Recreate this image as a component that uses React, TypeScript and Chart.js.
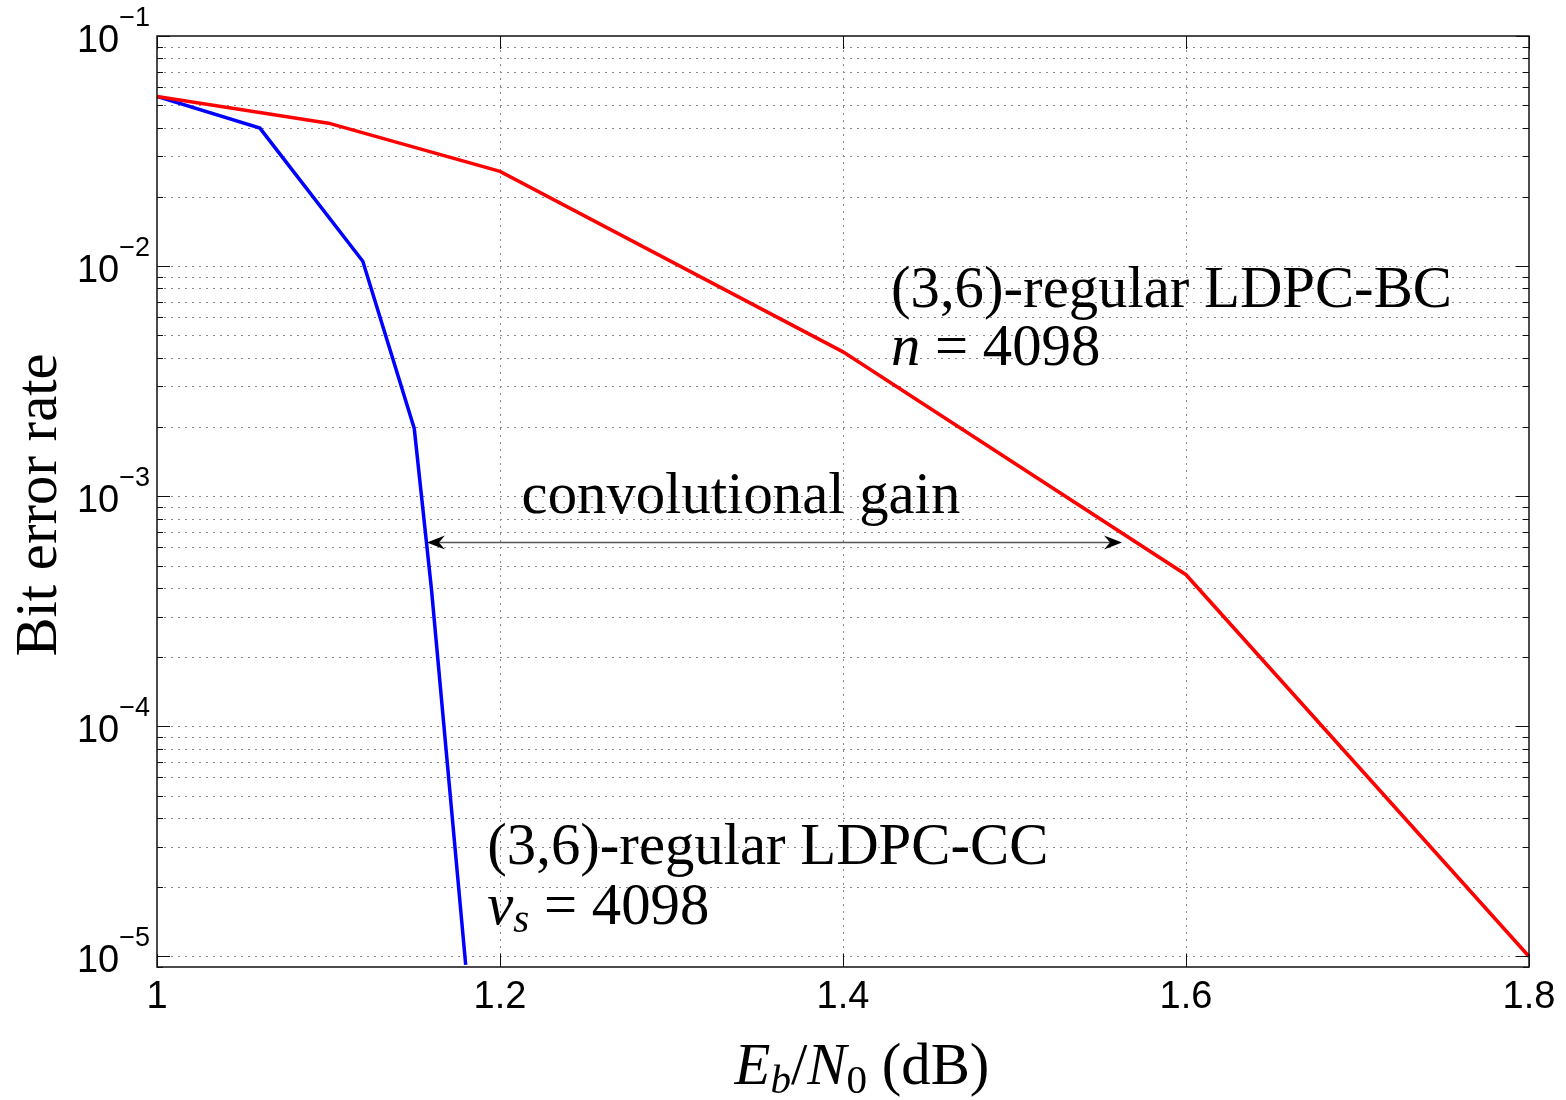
import React, { useEffect, useRef } from "react";
import { Chart, registerables } from "chart.js";

Chart.register(...registerables);

// ---- data ----
const ebn0CC = [1, 1.06, 1.12, 1.15, 1.16, 1.18];
const berCC = [0.0546, 0.0398, 0.0105, 0.00197, 0.000397, 0.0000092];
const ebn0BC = [1, 1.1, 1.2, 1.4, 1.6, 1.8];
const berBC = [0.0546, 0.0418, 0.0258, 0.00424, 0.000456, 0.00001];

const xTicks = [1, 1.2, 1.4, 1.6, 1.8];
const xTickLabels = ["1", "1.2", "1.4", "1.6", "1.8"];
const yDecades = [-5, -4, -3, -2, -1];
const yTickSup = ["\u22125", "\u22124", "\u22123", "\u22122", "\u22121"];

const X_MIN = 1;
const X_MAX = 1.8;
const Y_MIN = 9e-6;
const Y_MAX = 0.1;

// annotation anchors (data coordinates)
const bcLabel = { x: 1.428, y1: 6.62e-3, y2: 3.72e-3 };
const ccLabel = { x: 1.1926, y1: 2.52e-5, y2: 1.39e-5 };
const gainLabel = { x: 1.3405, y: 8.47e-4 };
const gainArrow = { x1: 1.1574, x2: 1.5627, y: 6.34e-4 };

type Piece = { t: string; it?: boolean; sub?: boolean };

const SERIF = '"Liberation Serif", "Times New Roman", serif';
const SANS = '"Liberation Sans", Arial, sans-serif';

function richWidth(ctx: CanvasRenderingContext2D, pieces: Piece[], S: number) {
  let w = 0;
  for (const p of pieces) {
    const size = p.sub ? S * 0.7 : S;
    ctx.font = `${p.it ? "italic " : ""}${size}px ${SERIF}`;
    w += ctx.measureText(p.t).width;
  }
  return w;
}

function drawRich(
  ctx: CanvasRenderingContext2D,
  pieces: Piece[],
  x: number,
  y: number,
  S: number
) {
  let cx = x;
  ctx.textAlign = "left";
  ctx.textBaseline = "alphabetic";
  for (const p of pieces) {
    const size = p.sub ? S * 0.7 : S;
    ctx.font = `${p.it ? "italic " : ""}${size}px ${SERIF}`;
    ctx.fillText(p.t, cx, p.sub ? y + S * 0.15 : y);
    cx += ctx.measureText(p.t).width;
  }
}

const matlabAxes = {
  id: "matlabAxes",
  beforeDatasetsDraw(chart: any) {
    const { ctx, chartArea: a, scales } = chart;
    const xs = scales.x;
    const ys = scales.y;
    ctx.save();
    ctx.strokeStyle = "#8a8a8a";
    ctx.lineWidth = 1;
    ctx.setLineDash([2, 5]);
    for (let e = -6; e <= -1; e++) {
      for (let k = 1; k <= 9; k++) {
        const v = k * Math.pow(10, e);
        if (v <= Y_MIN * 1.001 || v >= Y_MAX * 0.999) continue;
        const py = Math.round(ys.getPixelForValue(v)) + 0.5;
        ctx.beginPath();
        ctx.moveTo(a.left, py);
        ctx.lineTo(a.right, py);
        ctx.stroke();
      }
    }
    for (const t of xTicks) {
      if (t === X_MIN || t === X_MAX) continue;
      const px = Math.round(xs.getPixelForValue(t)) + 0.5;
      ctx.beginPath();
      ctx.moveTo(px, a.top);
      ctx.lineTo(px, a.bottom);
      ctx.stroke();
    }
    ctx.restore();
  },
  afterDatasetsDraw(chart: any) {
    const { ctx, chartArea: a, scales } = chart;
    const xs = scales.x;
    const ys = scales.y;
    ctx.save();
    ctx.setLineDash([]);
    ctx.strokeStyle = "#111";
    ctx.lineWidth = 1;

    const line = (x1: number, y1: number, x2: number, y2: number) => {
      ctx.beginPath();
      ctx.moveTo(x1, y1);
      ctx.lineTo(x2, y2);
      ctx.stroke();
    };
    for (let e = -6; e <= -1; e++) {
      for (let k = 1; k <= 9; k++) {
        const v = k * Math.pow(10, e);
        if (v < Y_MIN * 0.999 || v > Y_MAX * 1.001) continue;
        const py = Math.round(ys.getPixelForValue(v)) + 0.5;
        const len = k === 1 ? 13 : 6;
        line(a.left, py, a.left + len, py);
        line(a.right, py, a.right - len, py);
      }
    }
    for (const t of xTicks) {
      const px = Math.round(xs.getPixelForValue(t)) + 0.5;
      line(px, a.bottom, px, a.bottom - 13);
      line(px, a.top, px, a.top + 13);
    }

    ctx.lineWidth = 1.5;
    ctx.strokeStyle = "#111";
    ctx.strokeRect(a.left, a.top, a.right - a.left, a.bottom - a.top);

    ctx.fillStyle = "#000";
    ctx.font = `38px ${SANS}`;
    ctx.textAlign = "center";
    ctx.textBaseline = "alphabetic";
    xTicks.forEach((t, i) => {
      ctx.fillText(xTickLabels[i], xs.getPixelForValue(t), a.bottom + 41);
    });

    yDecades.forEach((e, i) => {
      const py = ys.getPixelForValue(Math.pow(10, e));
      const right = a.left - 7;
      ctx.font = `27px ${SANS}`;
      ctx.textAlign = "right";
      const sw = ctx.measureText(yTickSup[i]).width;
      ctx.fillText(yTickSup[i], right, py - 10);
      ctx.font = `38px ${SANS}`;
      ctx.fillText("10", right - sw, py + 16);
    });

    ctx.font = `100px ${SERIF}`;
    const S = (100 * 561) / ctx.measureText("(3,6)-regular LDPC-BC").width;

    ctx.save();
    ctx.translate(56, 505);
    ctx.rotate(-Math.PI / 2);
    ctx.font = `${S}px ${SERIF}`;
    ctx.textAlign = "center";
    ctx.textBaseline = "alphabetic";
    ctx.fillText("Bit error rate", 0, 0);
    ctx.restore();

    const xTitle: Piece[] = [
      { t: "E", it: true },
      { t: "b", it: true, sub: true },
      { t: "/" },
      { t: "N", it: true },
      { t: "0", sub: true },
      { t: " (dB)" },
    ];
    const xtw = richWidth(ctx, xTitle, S);
    drawRich(ctx, xTitle, 862 - xtw / 2, 1084, S);

    const bx = xs.getPixelForValue(bcLabel.x);
    drawRich(ctx, [{ t: "(3,6)-regular LDPC-BC" }], bx, ys.getPixelForValue(bcLabel.y1), S);
    drawRich(ctx, [{ t: "n", it: true }, { t: " = 4098" }], bx, ys.getPixelForValue(bcLabel.y2), S);

    const cx = xs.getPixelForValue(ccLabel.x);
    drawRich(ctx, [{ t: "(3,6)-regular LDPC-CC" }], cx, ys.getPixelForValue(ccLabel.y1), S);
    drawRich(
      ctx,
      [{ t: "\u03bd", it: true }, { t: "s", it: true, sub: true }, { t: " = 4098" }],
      cx,
      ys.getPixelForValue(ccLabel.y2),
      S
    );

    const gp: Piece[] = [{ t: "convolutional gain" }];
    const gw = richWidth(ctx, gp, S);
    drawRich(ctx, gp, xs.getPixelForValue(gainLabel.x) - gw / 2, ys.getPixelForValue(gainLabel.y), S);

    const ax1 = xs.getPixelForValue(gainArrow.x1);
    const ax2 = xs.getPixelForValue(gainArrow.x2);
    const ay = Math.round(ys.getPixelForValue(gainArrow.y)) + 0.5;
    ctx.strokeStyle = "#555";
    ctx.lineWidth = 1.5;
    ctx.beginPath();
    ctx.moveTo(ax1 + 10, ay);
    ctx.lineTo(ax2 - 10, ay);
    ctx.stroke();
    ctx.fillStyle = "#000";
    const head = (tx: number, dir: number) => {
      ctx.beginPath();
      ctx.moveTo(tx, ay);
      ctx.lineTo(tx + dir * 18, ay - 7);
      ctx.lineTo(tx + dir * 12, ay);
      ctx.lineTo(tx + dir * 18, ay + 7);
      ctx.closePath();
      ctx.fill();
    };
    head(ax1, 1);
    head(ax2, -1);

    ctx.restore();
  },
};

export default function App() {
  const canvasRef = useRef<HTMLCanvasElement | null>(null);

  useEffect(() => {
    if (!canvasRef.current) return;
    const chart = new Chart(canvasRef.current, {
      type: "line",
      data: {
        datasets: [
          {
            label: "(3,6)-regular LDPC-BC",
            data: ebn0BC.map((x, i) => ({ x, y: berBC[i] })),
            borderColor: "#ff0000",
            backgroundColor: "#ff0000",
            borderWidth: 3.5,
            pointRadius: 0,
            tension: 0,
            fill: false,
          },
          {
            label: "(3,6)-regular LDPC-CC",
            data: ebn0CC.map((x, i) => ({ x, y: berCC[i] })),
            borderColor: "#0000ff",
            backgroundColor: "#0000ff",
            borderWidth: 3.5,
            pointRadius: 0,
            tension: 0,
            fill: false,
          },
        ],
      },
      options: {
        animation: false,
        responsive: false,
        devicePixelRatio: 1,
        layout: { padding: { left: 157, top: 36, right: 37, bottom: 133 } },
        plugins: {
          legend: { display: false },
          tooltip: { enabled: false },
          title: { display: false },
        },
        events: [],
        scales: {
          x: { type: "linear", min: X_MIN, max: X_MAX, display: false },
          y: { type: "logarithmic", min: Y_MIN, max: Y_MAX, display: false },
        },
      },
      plugins: [matlabAxes],
    });
    return () => chart.destroy();
  }, []);

  return (
    <div
      style={{
        position: "absolute",
        left: 0,
        top: 0,
        width: 1566,
        height: 1100,
        background: "#fff",
      }}
    >
      <canvas ref={canvasRef} width={1566} height={1100} style={{ display: "block" }} />
    </div>
  );
}
